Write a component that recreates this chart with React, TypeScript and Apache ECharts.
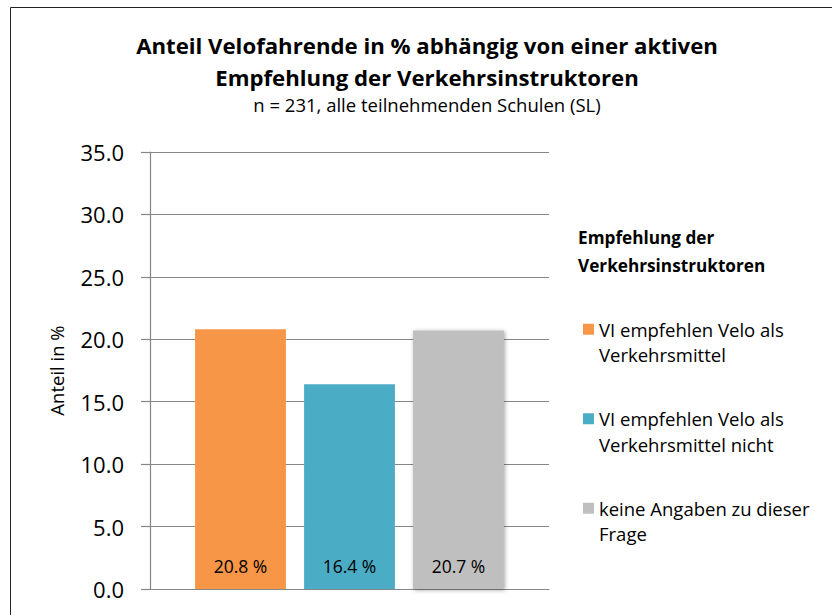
import React, { useEffect, useRef } from "react";
import * as echarts from "echarts";

const titleLines = [
  "Anteil Velofahrende in % abhängig von einer aktiven",
  "Empfehlung der Verkehrsinstruktoren",
];
const subtitle = "n = 231, alle teilnehmenden Schulen (SL)";
const legendTitle = "Empfehlung der\nVerkehrsinstruktoren";
const yAxisName = "Anteil in %";
const categories = [""];
const seriesNames = [
  "VI empfehlen Velo als\nVerkehrsmittel",
  "VI empfehlen Velo als\nVerkehrsmittel nicht",
  "keine Angaben zu dieser\nFrage",
];
const seriesValues = [20.8, 16.4, 20.7];
const seriesColors = ["#F79646", "#4BACC6", "#BFBFBF"];
const yMin = 0;
const yMax = 35;
const yInterval = 5;

const FONT = "'Open Sans', Lato, sans-serif";

export default function App() {
  const ref = useRef<HTMLDivElement>(null);
  useEffect(() => {
    if (!ref.current) return;
    const chart = echarts.init(ref.current, undefined, { renderer: "svg" });
    const series = seriesNames.map((name, i) => ({
      name,
      type: "bar",
      data: [seriesValues[i]],
      barGap: "20%",
      barCategoryGap: "22.6%",
      itemStyle: {
        color: seriesColors[i],
        ...(i === 2
          ? { shadowBlur: 4, shadowColor: "rgba(0,0,0,0.35)", shadowOffsetX: 1, shadowOffsetY: 1 }
          : {}),
      },
      label: {
        show: true,
        position: "insideBottom",
        distance: 14,
        formatter: (p: any) => `${Number(p.value).toFixed(1)} %`,
        color: "#000",
        fontSize: 17.5,
        fontFamily: FONT,
      },
    }));
    chart.setOption({
      animation: false,
      backgroundColor: "#fff",
      textStyle: { fontFamily: FONT },
      title: [
        {
          text: titleLines.join("\n"),
          left: 427,
          top: 29,
          padding: 0,
          textAlign: "center",
          textStyle: {
            fontFamily: FONT,
            fontSize: 22.2,
            fontWeight: "bold",
            color: "#000",
            lineHeight: 32,
          },
        },
        {
          text: subtitle,
          left: 427,
          top: 94,
          padding: 0,
          textAlign: "center",
          textStyle: {
            fontFamily: FONT,
            fontSize: 18.5,
            fontWeight: "normal",
            color: "#000",
            lineHeight: 21,
          },
        },
        {
          text: legendTitle,
          left: 578,
          top: 223,
          padding: 0,
          textStyle: {
            fontFamily: FONT,
            fontSize: 17.2,
            fontWeight: "bold",
            color: "#000",
            lineHeight: 28,
          },
        },
      ],
      legend: {
        orient: "vertical",
        left: 583,
        top: 291,
        padding: 0,
        itemWidth: 11,
        itemHeight: 11,
        itemGap: 13,
        icon: "rect",
        data: seriesNames,
        formatter: (name: string) => "\n" + name,
        textStyle: {
          fontFamily: FONT,
          fontSize: 18.5,
          color: "#000",
          lineHeight: 25.5,
        },
      },
      grid: { left: 150, right: 283, top: 152, bottom: 26, containLabel: false },
      xAxis: {
        type: "category",
        data: categories,
        axisLine: { show: true, lineStyle: { color: "#868686", width: 1.2 } },
        axisTick: { show: false },
        axisLabel: { show: false },
      },
      yAxis: {
        type: "value",
        min: yMin,
        max: yMax,
        interval: yInterval,
        name: yAxisName,
        nameLocation: "middle",
        nameGap: 84,
        nameRotate: 90,
        nameTextStyle: { fontFamily: FONT, fontSize: 18.5, color: "#000" },
        axisLine: { show: true, lineStyle: { color: "#868686", width: 1.2 } },
        axisTick: { show: true, length: 9, lineStyle: { color: "#868686", width: 1.2 } },
        axisLabel: {
          formatter: (v: number) => v.toFixed(1),
          fontFamily: FONT,
          fontSize: 22,
          color: "#000",
          margin: 26,
        },
        splitLine: { show: true, lineStyle: { color: "#868686", width: 1.2 } },
      },
      graphic: [
        {
          type: "rect",
          shape: { x: 10.5, y: 7.5, width: 1000, height: 1000 },
          style: { fill: "none", stroke: "#222", lineWidth: 1 },
          silent: true,
        },
      ],
      series,
    });
    return () => chart.dispose();
  }, []);
  return (
    <div
      ref={ref}
      style={{ position: "fixed", left: 0, top: 0, width: 832, height: 615 }}
    />
  );
}
